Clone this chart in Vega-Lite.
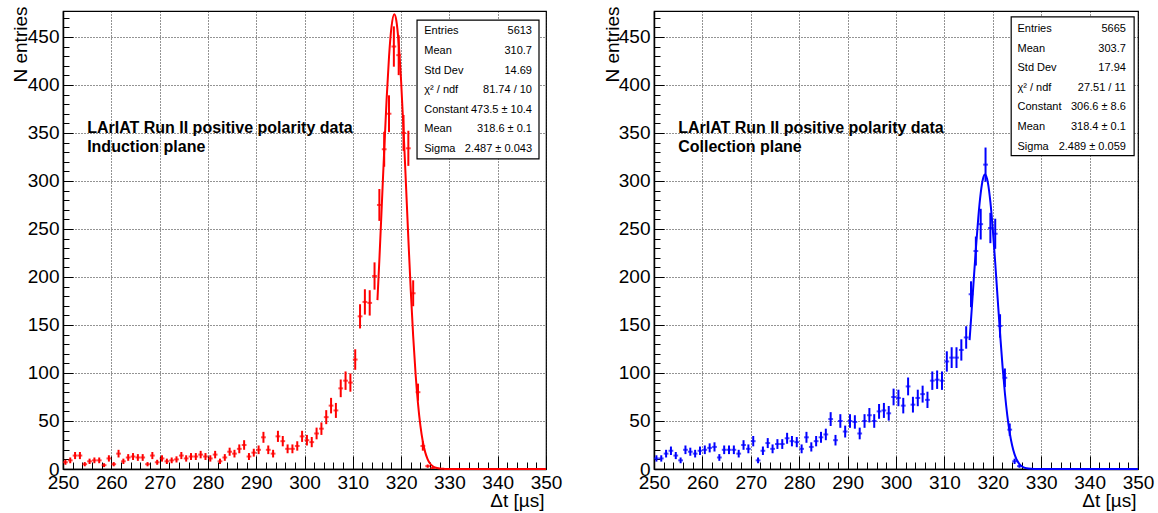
{
"$schema": "https://vega.github.io/schema/vega-lite/v6.json",
"background": "white",
"padding": {"left": 10, "top": 5, "right": 0, "bottom": 0},
"spacing": 108,
"bounds": "flush",
"config": {"font": "Liberation Sans", "view": {"stroke": "#000", "strokeWidth": 1.2}},
"datasets": {
"histL": [{"t":250.5,"n":7,"e":2.6},{"t":251.5,"n":9,"e":3},{"t":252.5,"n":14,"e":3.7},{"t":253.5,"n":14,"e":3.7},{"t":254.5,"n":5,"e":2.2},{"t":255.5,"n":8,"e":2.8},{"t":256.5,"n":9,"e":3},{"t":257.5,"n":9,"e":3},{"t":258.5,"n":4,"e":2},{"t":259.5,"n":11,"e":3.3},{"t":260.5,"n":5,"e":2.2},{"t":261.5,"n":16,"e":4},{"t":262.5,"n":8,"e":2.8},{"t":263.5,"n":12,"e":3.5},{"t":264.5,"n":13,"e":3.6},{"t":265.5,"n":12,"e":3.5},{"t":266.5,"n":12,"e":3.5},{"t":267.5,"n":5,"e":2.2},{"t":268.5,"n":14,"e":3.7},{"t":269.5,"n":7,"e":2.6},{"t":270.5,"n":11,"e":3.3},{"t":271.5,"n":8,"e":2.8},{"t":272.5,"n":9,"e":3},{"t":273.5,"n":10,"e":3.2},{"t":274.5,"n":14,"e":3.7},{"t":275.5,"n":11,"e":3.3},{"t":276.5,"n":13,"e":3.6},{"t":277.5,"n":13,"e":3.6},{"t":278.5,"n":15,"e":3.9},{"t":279.5,"n":13,"e":3.6},{"t":280.5,"n":11,"e":3.3},{"t":281.5,"n":15,"e":3.9},{"t":282.5,"n":8,"e":2.8},{"t":283.5,"n":12,"e":3.5},{"t":284.5,"n":18,"e":4.2},{"t":285.5,"n":16,"e":4},{"t":286.5,"n":21,"e":4.6},{"t":287.5,"n":25,"e":5},{"t":288.5,"n":13,"e":3.6},{"t":289.5,"n":17,"e":4.1},{"t":290.5,"n":20,"e":4.5},{"t":291.5,"n":33,"e":5.7},{"t":292.5,"n":20,"e":4.5},{"t":293.5,"n":16,"e":4},{"t":294.5,"n":34,"e":5.8},{"t":295.5,"n":29,"e":5.4},{"t":296.5,"n":21,"e":4.6},{"t":297.5,"n":21,"e":4.6},{"t":298.5,"n":24,"e":4.9},{"t":299.5,"n":34,"e":5.8},{"t":300.5,"n":30,"e":5.5},{"t":301.5,"n":28,"e":5.3},{"t":302.5,"n":37,"e":6.1},{"t":303.5,"n":42,"e":6.5},{"t":304.5,"n":54,"e":7.3},{"t":305.5,"n":66,"e":8.1},{"t":306.5,"n":61,"e":7.8},{"t":307.5,"n":84,"e":9.2},{"t":308.5,"n":92,"e":9.6},{"t":309.5,"n":90,"e":9.5},{"t":310.5,"n":114,"e":10.7},{"t":311.5,"n":159,"e":12.6},{"t":312.5,"n":174,"e":13.2},{"t":313.5,"n":173,"e":13.2},{"t":314.5,"n":201,"e":14.2},{"t":315.5,"n":275,"e":16.6},{"t":316.5,"n":333,"e":18.2},{"t":317.5,"n":370,"e":19.2},{"t":318.5,"n":440,"e":21},{"t":319.5,"n":431,"e":20.8},{"t":320.5,"n":350,"e":18.7},{"t":321.5,"n":334,"e":18.3},{"t":322.5,"n":183,"e":13.5},{"t":323.5,"n":80,"e":8.9},{"t":324.5,"n":24,"e":4.9},{"t":325.5,"n":3,"e":1.7},{"t":326.5,"n":1,"e":1}],
"histR": [{"t":250.5,"n":11,"e":3.3},{"t":251.5,"n":11,"e":3.3},{"t":252.5,"n":16,"e":4},{"t":253.5,"n":19,"e":4.4},{"t":254.5,"n":14,"e":3.7},{"t":255.5,"n":9,"e":3},{"t":256.5,"n":20,"e":4.5},{"t":257.5,"n":18,"e":4.2},{"t":258.5,"n":16,"e":4},{"t":259.5,"n":19,"e":4.4},{"t":260.5,"n":20,"e":4.5},{"t":261.5,"n":22,"e":4.7},{"t":262.5,"n":23,"e":4.8},{"t":263.5,"n":12,"e":3.5},{"t":264.5,"n":20,"e":4.5},{"t":265.5,"n":20,"e":4.5},{"t":266.5,"n":20,"e":4.5},{"t":267.5,"n":16,"e":4},{"t":268.5,"n":25,"e":5},{"t":269.5,"n":21,"e":4.6},{"t":270.5,"n":29,"e":5.4},{"t":271.5,"n":9,"e":3},{"t":272.5,"n":19,"e":4.4},{"t":273.5,"n":27,"e":5.2},{"t":274.5,"n":21,"e":4.6},{"t":275.5,"n":26,"e":5.1},{"t":276.5,"n":26,"e":5.1},{"t":277.5,"n":32,"e":5.7},{"t":278.5,"n":29,"e":5.4},{"t":279.5,"n":28,"e":5.3},{"t":280.5,"n":21,"e":4.6},{"t":281.5,"n":33,"e":5.7},{"t":282.5,"n":23,"e":4.8},{"t":283.5,"n":29,"e":5.4},{"t":284.5,"n":33,"e":5.7},{"t":285.5,"n":36,"e":6},{"t":286.5,"n":52,"e":7.2},{"t":287.5,"n":30,"e":5.5},{"t":288.5,"n":50,"e":7.1},{"t":289.5,"n":39,"e":6.2},{"t":290.5,"n":50,"e":7.1},{"t":291.5,"n":49,"e":7},{"t":292.5,"n":37,"e":6.1},{"t":293.5,"n":50,"e":7.1},{"t":294.5,"n":56,"e":7.5},{"t":295.5,"n":50,"e":7.1},{"t":296.5,"n":60,"e":7.7},{"t":297.5,"n":61,"e":7.8},{"t":298.5,"n":58,"e":7.6},{"t":299.5,"n":75,"e":8.7},{"t":300.5,"n":74,"e":8.6},{"t":301.5,"n":66,"e":8.1},{"t":302.5,"n":86,"e":9.3},{"t":303.5,"n":67,"e":8.2},{"t":304.5,"n":74,"e":8.6},{"t":305.5,"n":78,"e":8.8},{"t":306.5,"n":72,"e":8.5},{"t":307.5,"n":92,"e":9.6},{"t":308.5,"n":93,"e":9.6},{"t":309.5,"n":92,"e":9.6},{"t":310.5,"n":112,"e":10.6},{"t":311.5,"n":116,"e":10.8},{"t":312.5,"n":116,"e":10.8},{"t":313.5,"n":124,"e":11.1},{"t":314.5,"n":137,"e":11.7},{"t":315.5,"n":182,"e":13.5},{"t":316.5,"n":227,"e":15.1},{"t":317.5,"n":255,"e":16},{"t":318.5,"n":317,"e":17.8},{"t":319.5,"n":251,"e":15.8},{"t":320.5,"n":245,"e":15.7},{"t":321.5,"n":149,"e":12.2},{"t":322.5,"n":95,"e":9.7},{"t":323.5,"n":41,"e":6.4},{"t":324.5,"n":8,"e":2.8},{"t":325.5,"n":3,"e":1.7}],
"fitL": [{"t":315.1,"f":175.9},{"t":315.5,"f":217.7},{"t":316,"f":274.2},{"t":316.5,"f":331.5},{"t":317,"f":385.0},{"t":317.5,"f":429.4},{"t":318,"f":459.9},{"t":318.6,"f":473.5},{"t":319,"f":467.4},{"t":319.5,"f":443.5},{"t":320,"f":404.1},{"t":320.5,"f":353.6},{"t":321,"f":297.2},{"t":321.5,"f":239.9},{"t":322,"f":186.0},{"t":322.5,"f":138.4},{"t":323,"f":99.0},{"t":323.5,"f":68.0},{"t":324,"f":44.8},{"t":324.5,"f":28.4},{"t":325,"f":17.3},{"t":325.5,"f":10.1},{"t":326,"f":5.7},{"t":326.5,"f":3.1},{"t":327,"f":1.6},{"t":328,"f":0.4},{"t":329,"f":0.1},{"t":330,"f":0},{"t":350,"f":0}],
"fitR": [{"t":315.2,"f":134.2},{"t":315.5,"f":155.5},{"t":316,"f":192.6},{"t":316.5,"f":229.1},{"t":317,"f":261.7},{"t":317.5,"f":287.2},{"t":318,"f":302.7},{"t":318.4,"f":306.6},{"t":319,"f":297.8},{"t":319.5,"f":278.1},{"t":320,"f":249.4},{"t":320.5,"f":214.8},{"t":321,"f":177.7},{"t":321.5,"f":141.2},{"t":322,"f":107.7},{"t":322.5,"f":78.9},{"t":323,"f":55.6},{"t":323.5,"f":37.6},{"t":324,"f":24.4},{"t":324.5,"f":15.2},{"t":325,"f":9.1},{"t":325.5,"f":5.2},{"t":326,"f":2.9},{"t":326.5,"f":1.5},{"t":327,"f":0.8},{"t":328,"f":0.2},{"t":329,"f":0},{"t":350,"f":0}],
"boxL": [{"x1":323.3,"x2":348.55,"y1":323,"y2":467.5}],
"boxR": [{"x1":323.8,"x2":349.2,"y1":326.4,"y2":470.9}],
"annotL": [{"t":255,"n":350.3,"s":"LArIAT Run II positive polarity data"},{"t":255,"n":330.5,"s":"Induction plane"}],
"annotR": [{"t":255,"n":350.3,"s":"LArIAT Run II positive polarity data"},{"t":255,"n":330.5,"s":"Collection plane"}],
"statsL": [{"lx":324.8,"vx":347.1,"y":452.9,"label":"Entries","value":"5613"},{"lx":324.8,"vx":347.1,"y":432.4,"label":"Mean","value":"310.7"},{"lx":324.8,"vx":347.1,"y":411.9,"label":"Std Dev","value":"14.69"},{"lx":324.8,"vx":347.1,"y":391.5,"label":"χ² / ndf","value":"81.74 / 10"},{"lx":324.8,"vx":347.1,"y":371.0,"label":"Constant","value":"473.5 ± 10.4"},{"lx":324.8,"vx":347.1,"y":350.5,"label":"Mean","value":"318.6 ± 0.1"},{"lx":324.8,"vx":347.1,"y":330.0,"label":"Sigma","value":"2.487 ± 0.043"}],
"statsR": [{"lx":325.1,"vx":347.5,"y":455.3,"label":"Entries","value":"5665"},{"lx":325.1,"vx":347.5,"y":434.8,"label":"Mean","value":"303.7"},{"lx":325.1,"vx":347.5,"y":414.3,"label":"Std Dev","value":"17.94"},{"lx":325.1,"vx":347.5,"y":393.9,"label":"χ² / ndf","value":"27.51 / 11"},{"lx":325.1,"vx":347.5,"y":373.4,"label":"Constant","value":"306.6 ± 8.6"},{"lx":325.1,"vx":347.5,"y":352.9,"label":"Mean","value":"318.4 ± 0.1"},{"lx":325.1,"vx":347.5,"y":332.4,"label":"Sigma","value":"2.489 ± 0.059"}]
},
"hconcat": [
{
"width": 483, "height": 458,
"resolve": {"axis": {"x": "independent", "y": "independent"}},
"layer": [
{"data": {"name": "histL"}, "mark": {"type": "tick", "orient": "horizontal", "color": "#ff0000", "size": 4.8, "thickness": 2},
 "encoding": {
  "x": {"field": "t", "type": "quantitative", "scale": {"domain": [250, 350], "nice": false, "zero": false},
   "axis": {"orient": "bottom", "values": [250,260,270,280,290,300,310,320,330,340,350], "ticks": false, "grid": true, "gridColor": "#000", "gridDash": [1,2], "gridWidth": 1, "gridOpacity": 0.85, "labelFont": "Liberation Sans", "labelFontSize": 19, "labelColor": "#000", "labelPadding": 4, "labelFlush": false, "labelOverlap": false, "labelBaseline": "top", "domain": true, "domainColor": "#000", "domainWidth": 1.5, "title": "Δt [µs]", "titleFont": "Liberation Sans", "titleFontSize": 19, "titleFontWeight": "normal", "titleColor": "#000", "titleAlign": "right", "titleAnchor": "end", "titleX": 481, "titleY": 37, "titleBaseline": "alphabetic"}},
  "y": {"field": "n", "type": "quantitative", "scale": {"domain": [0, 477], "nice": false, "zero": true},
   "axis": {"orient": "left", "values": [0,50,100,150,200,250,300,350,400,450], "ticks": false, "grid": true, "gridColor": "#000", "gridDash": [1,2], "gridWidth": 1, "gridOpacity": 0.85, "labelFont": "Liberation Sans", "labelFontSize": 19, "labelColor": "#000", "labelPadding": 4, "labelFlush": false, "labelOverlap": false, "domain": true, "domainColor": "#000", "domainWidth": 1.5, "title": "N entries", "titleFont": "Liberation Sans", "titleFontSize": 19, "titleFontWeight": "normal", "titleColor": "#000", "titleAngle": 270, "titleAlign": "right", "titleBaseline": "alphabetic", "titleX": -37, "titleY": -5}}
 }},
{"data": {"name": "histL"}, "mark": {"type": "errorbar", "color": "#ff0000", "thickness": 2},
 "encoding": {
  "x": {"field": "t", "type": "quantitative", "axis": null},
  "y": {"field": "n", "type": "quantitative", "axis": null},
  "yError": {"field": "e"}
 }},
{"data": {"name": "fitL"}, "mark": {"type": "line", "color": "#ff0000", "strokeWidth": 2, "interpolate": "monotone"},
 "encoding": {
  "x": {"field": "t", "type": "quantitative", "axis": {"orient": "bottom", "values": [250,260,270,280,290,300,310,320,330,340,350], "ticks": true, "tickSize": -13, "tickColor": "#000", "tickWidth": 1, "labels": false, "grid": false, "domain": false, "title": null}},
  "y": {"field": "f", "type": "quantitative", "axis": {"orient": "left", "values": [0,50,100,150,200,250,300,350,400,450], "ticks": true, "tickSize": -10, "tickColor": "#000", "tickWidth": 1, "labels": false, "grid": false, "domain": false, "title": null}}
 }},
{"data": {"name": "boxL"}, "mark": {"type": "rect", "fill": "#fff", "stroke": "#000", "strokeWidth": 1.2},
 "encoding": {
  "x": {"field": "x1", "type": "quantitative", "axis": {"orient": "bottom", "values": [252,254,256,258,262,264,266,268,272,274,276,278,282,284,286,288,292,294,296,298,302,304,306,308,312,314,316,318,322,324,326,328,332,334,336,338,342,344,346,348], "ticks": true, "tickSize": -7, "tickColor": "#000", "tickWidth": 1, "labels": false, "grid": false, "domain": false, "title": null}},
  "x2": {"field": "x2"},
  "y": {"field": "y1", "type": "quantitative", "axis": {"orient": "left", "values": [10,20,30,40,60,70,80,90,110,120,130,140,160,170,180,190,210,220,230,240,260,270,280,290,310,320,330,340,360,370,380,390,410,420,430,440,460,470], "ticks": true, "tickSize": -6, "tickColor": "#000", "tickWidth": 1, "labels": false, "grid": false, "domain": false, "title": null}},
  "y2": {"field": "y2"}
 }},
{"data": {"name": "annotL"}, "mark": {"type": "text", "font": "Liberation Sans", "fontSize": 16, "fontWeight": "bold", "align": "left", "baseline": "alphabetic", "color": "#000"},
 "encoding": {
  "x": {"field": "t", "type": "quantitative", "axis": null},
  "y": {"field": "n", "type": "quantitative", "axis": null},
  "text": {"field": "s"}
 }},
{"data": {"name": "statsL"}, "mark": {"type": "text", "font": "Liberation Sans", "fontSize": 11, "align": "left", "baseline": "alphabetic", "color": "#000"},
 "encoding": {
  "x": {"field": "lx", "type": "quantitative", "axis": null},
  "y": {"field": "y", "type": "quantitative", "axis": null},
  "text": {"field": "label"}
 }},
{"data": {"name": "statsL"}, "mark": {"type": "text", "font": "Liberation Sans", "fontSize": 11, "align": "right", "baseline": "alphabetic", "color": "#000"},
 "encoding": {
  "x": {"field": "vx", "type": "quantitative", "axis": null},
  "y": {"field": "y", "type": "quantitative", "axis": null},
  "text": {"field": "value"}
 }}
]
},
{
"width": 484, "height": 458,
"resolve": {"axis": {"x": "independent", "y": "independent"}},
"layer": [
{"data": {"name": "histR"}, "mark": {"type": "tick", "orient": "horizontal", "color": "#0000ff", "size": 4.8, "thickness": 2},
 "encoding": {
  "x": {"field": "t", "type": "quantitative", "scale": {"domain": [250, 350], "nice": false, "zero": false},
   "axis": {"orient": "bottom", "values": [250,260,270,280,290,300,310,320,330,340,350], "ticks": false, "grid": true, "gridColor": "#000", "gridDash": [1,2], "gridWidth": 1, "gridOpacity": 0.85, "labelFont": "Liberation Sans", "labelFontSize": 19, "labelColor": "#000", "labelPadding": 4, "labelFlush": false, "labelOverlap": false, "labelBaseline": "top", "domain": true, "domainColor": "#000", "domainWidth": 1.5, "title": "Δt [µs]", "titleFont": "Liberation Sans", "titleFontSize": 19, "titleFontWeight": "normal", "titleColor": "#000", "titleAlign": "right", "titleAnchor": "end", "titleX": 482, "titleY": 37, "titleBaseline": "alphabetic"}},
  "y": {"field": "n", "type": "quantitative", "scale": {"domain": [0, 477], "nice": false, "zero": true},
   "axis": {"orient": "left", "values": [0,50,100,150,200,250,300,350,400,450], "ticks": false, "grid": true, "gridColor": "#000", "gridDash": [1,2], "gridWidth": 1, "gridOpacity": 0.85, "labelFont": "Liberation Sans", "labelFontSize": 19, "labelColor": "#000", "labelPadding": 4, "labelFlush": false, "labelOverlap": false, "domain": true, "domainColor": "#000", "domainWidth": 1.5, "title": "N entries", "titleFont": "Liberation Sans", "titleFontSize": 19, "titleFontWeight": "normal", "titleColor": "#000", "titleAngle": 270, "titleAlign": "right", "titleBaseline": "alphabetic", "titleX": -36, "titleY": -5}}
 }},
{"data": {"name": "histR"}, "mark": {"type": "errorbar", "color": "#0000ff", "thickness": 2},
 "encoding": {
  "x": {"field": "t", "type": "quantitative", "axis": null},
  "y": {"field": "n", "type": "quantitative", "axis": null},
  "yError": {"field": "e"}
 }},
{"data": {"name": "fitR"}, "mark": {"type": "line", "color": "#0000ff", "strokeWidth": 2, "interpolate": "monotone"},
 "encoding": {
  "x": {"field": "t", "type": "quantitative", "axis": {"orient": "bottom", "values": [250,260,270,280,290,300,310,320,330,340,350], "ticks": true, "tickSize": -13, "tickColor": "#000", "tickWidth": 1, "labels": false, "grid": false, "domain": false, "title": null}},
  "y": {"field": "f", "type": "quantitative", "axis": {"orient": "left", "values": [0,50,100,150,200,250,300,350,400,450], "ticks": true, "tickSize": -10, "tickColor": "#000", "tickWidth": 1, "labels": false, "grid": false, "domain": false, "title": null}}
 }},
{"data": {"name": "boxR"}, "mark": {"type": "rect", "fill": "#fff", "stroke": "#000", "strokeWidth": 1.2},
 "encoding": {
  "x": {"field": "x1", "type": "quantitative", "axis": {"orient": "bottom", "values": [252,254,256,258,262,264,266,268,272,274,276,278,282,284,286,288,292,294,296,298,302,304,306,308,312,314,316,318,322,324,326,328,332,334,336,338,342,344,346,348], "ticks": true, "tickSize": -7, "tickColor": "#000", "tickWidth": 1, "labels": false, "grid": false, "domain": false, "title": null}},
  "x2": {"field": "x2"},
  "y": {"field": "y1", "type": "quantitative", "axis": {"orient": "left", "values": [10,20,30,40,60,70,80,90,110,120,130,140,160,170,180,190,210,220,230,240,260,270,280,290,310,320,330,340,360,370,380,390,410,420,430,440,460,470], "ticks": true, "tickSize": -6, "tickColor": "#000", "tickWidth": 1, "labels": false, "grid": false, "domain": false, "title": null}},
  "y2": {"field": "y2"}
 }},
{"data": {"name": "annotR"}, "mark": {"type": "text", "font": "Liberation Sans", "fontSize": 16, "fontWeight": "bold", "align": "left", "baseline": "alphabetic", "color": "#000"},
 "encoding": {
  "x": {"field": "t", "type": "quantitative", "axis": null},
  "y": {"field": "n", "type": "quantitative", "axis": null},
  "text": {"field": "s"}
 }},
{"data": {"name": "statsR"}, "mark": {"type": "text", "font": "Liberation Sans", "fontSize": 11, "align": "left", "baseline": "alphabetic", "color": "#000"},
 "encoding": {
  "x": {"field": "lx", "type": "quantitative", "axis": null},
  "y": {"field": "y", "type": "quantitative", "axis": null},
  "text": {"field": "label"}
 }},
{"data": {"name": "statsR"}, "mark": {"type": "text", "font": "Liberation Sans", "fontSize": 11, "align": "right", "baseline": "alphabetic", "color": "#000"},
 "encoding": {
  "x": {"field": "vx", "type": "quantitative", "axis": null},
  "y": {"field": "y", "type": "quantitative", "axis": null},
  "text": {"field": "value"}
 }}
]
}
]
}
